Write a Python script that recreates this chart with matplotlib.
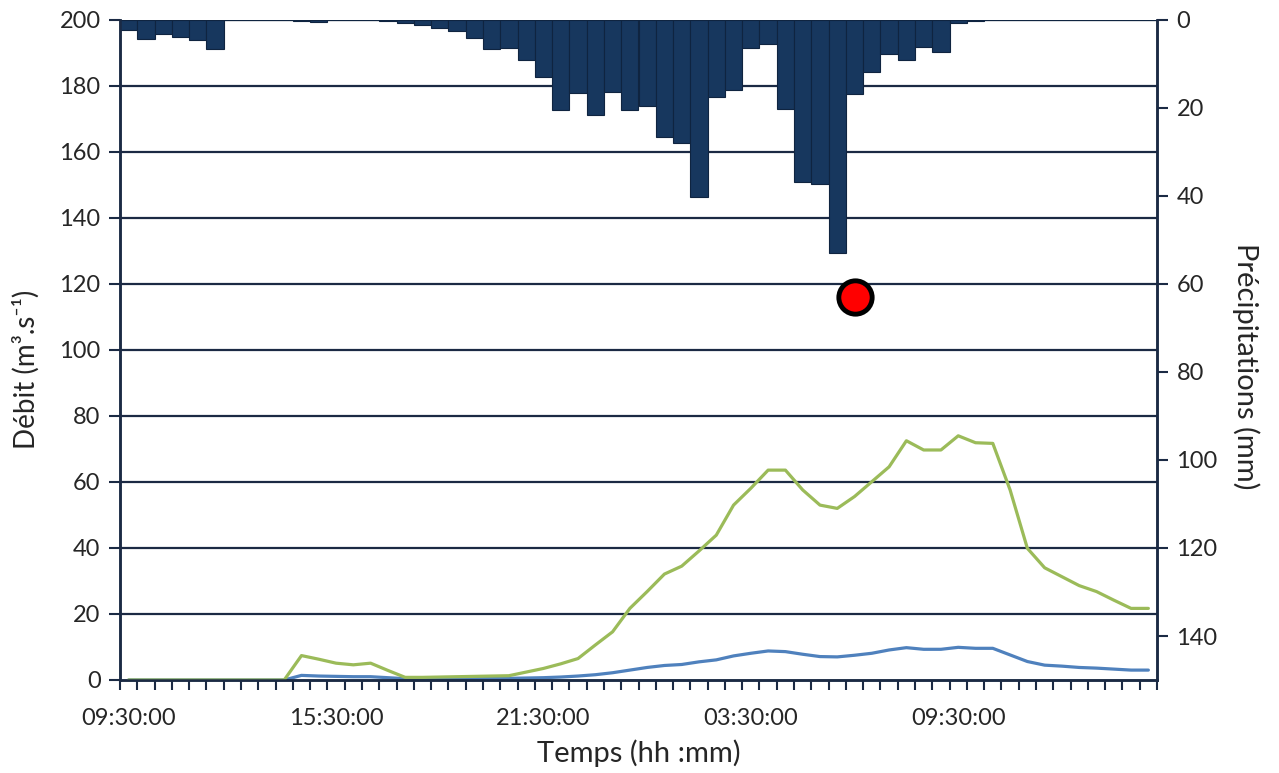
import numpy as np
import matplotlib
matplotlib.use("Agg")
import matplotlib.pyplot as plt

plt.rcParams['font.family'] = ['Lato', 'DejaVu Sans']

# categories: half-hour steps, 60 of them
n_steps = 60
tick_pos = [0, 12, 24, 36, 48]
tick_labels = ["09:30:00", "15:30:00", "21:30:00", "03:30:00", "09:30:00"]

# precipitations (mm), right axis, inverted
precip = [2.3, 4.3, 3.2, 3.8, 4.5, 6.6, 0.1, 0.1, 0.1, 0.1,
          0.2, 0.4, 0.1, 0.1, 0.1, 0.3, 0.6, 1.1, 1.8, 2.4,
          4.2, 6.6, 6.4, 9.1, 13.0, 20.4, 16.7, 21.6, 16.4, 20.5,
          19.5, 26.7, 28.0, 40.2, 17.6, 15.9, 6.4, 5.4, 20.2, 36.8,
          37.3, 52.9, 16.8, 11.8, 7.8, 9.1, 6.2, 7.2, 0.6, 0.3,
          0, 0, 0, 0, 0, 0, 0, 0, 0, 0]

# debit (m3/s), left axis
debit_vert = [0, 0, 0, 0, 0, 0, 0, 0, 0, 0,
              7.4, 6.3, 5.1, 4.6, 5.1, 2.9, 0.8, 0.8, 0.9, 1.0,
              1.1, 1.2, 1.3, 2.4, 3.5, 4.9, 6.5, 10.6, 14.6, 21.7,
              26.8, 32.1, 34.5, 39.1, 43.9, 53.0, 58.1, 63.6, 63.6, 57.6,
              53.0, 52.0, 55.6, 60.1, 64.6, 72.5, 69.7, 69.7, 74.0, 71.9,
              71.7, 57.6, 39.9, 34.0, 31.3, 28.6, 26.8, 24.2, 21.7, 21.7]

debit_bleu = [0, 0, 0, 0, 0, 0, 0, 0, 0, 0,
              1.4, 1.2, 1.1, 1.0, 1.0, 0.7, 0.4, 0.4, 0.4, 0.4,
              0.5, 0.5, 0.5, 0.6, 0.7, 0.9, 1.2, 1.6, 2.2, 3.0,
              3.8, 4.4, 4.7, 5.5, 6.1, 7.3, 8.1, 8.8, 8.6, 7.8,
              7.1, 7.0, 7.5, 8.1, 9.1, 9.8, 9.3, 9.3, 9.9, 9.6,
              9.6, 7.6, 5.6, 4.5, 4.2, 3.8, 3.6, 3.3, 3.0, 3.0]

# red point
point_x = 42
point_y = 116

navy = "#1b2a44"
txt = "#262626"
fs = 17
fl = 21

x = np.arange(n_steps)

fig = plt.figure(figsize=(12.79, 7.73), dpi=100)
ax = fig.add_axes([120/1279, 1 - 680/773, (1157-120)/1279, 660/773])
ax2 = ax.twinx()

ax.set_ylim(0, 200)
ax.set_xlim(-0.5, n_steps - 0.5)
ax.set_yticks(np.arange(0, 201, 20))
for yv in np.arange(20, 201, 20):
    ax.axhline(yv, color=navy, lw=1.6, zorder=0)

ax.plot(x, debit_bleu, color="#4f81bd", lw=2.3, solid_capstyle='round', zorder=2)
ax.plot(x, debit_vert, color="#9bbb59", lw=2.3, solid_capstyle='round', zorder=3)

ax2.bar(x, precip, width=1.0, color="#17375e", edgecolor="#0f2440", linewidth=0.8)
ax2.set_ylim(150, 0)
ax2.set_yticks(np.arange(0, 141, 20))
ax2.plot([point_x], [point_y], 'o', transform=ax.transData, color="#ff0000",
         markersize=24, markeredgecolor="black", markeredgewidth=3.5, zorder=10)

for a in (ax, ax2):
    a.spines['top'].set_visible(False)
    for s in ('left', 'right', 'bottom'):
        a.spines[s].set_color(navy)
        a.spines[s].set_linewidth(1.8)

ax.set_xticks(tick_pos)
ax.set_xticklabels(tick_labels)
ax.set_xticks(np.arange(-0.5, n_steps, 1), minor=True)
ax.tick_params(axis='x', which='major', length=0, pad=20, labelsize=fs, labelcolor=txt)
ax.tick_params(axis='x', which='minor', length=7, width=1.5, color=navy, direction='out')
ax.tick_params(axis='y', length=8, width=1.5, color=navy, labelsize=fs, labelcolor=txt, pad=6)
ax2.tick_params(axis='y', length=8, width=1.5, color=navy, labelsize=fs, labelcolor=txt, pad=6)

ax.set_ylabel("Débit (m³.s⁻¹)", fontsize=20, color=txt, labelpad=14)
ax.yaxis.label.set_y(0.47)
ax2.set_ylabel("Précipitations (mm)", fontsize=fl, color=txt, rotation=-90, labelpad=30)
ax2.yaxis.label.set_y(0.475)
ax.set_xlabel("Temps (hh :mm)", fontsize=fl, color=txt, labelpad=8)

fig.savefig("out.png", dpi=100)
